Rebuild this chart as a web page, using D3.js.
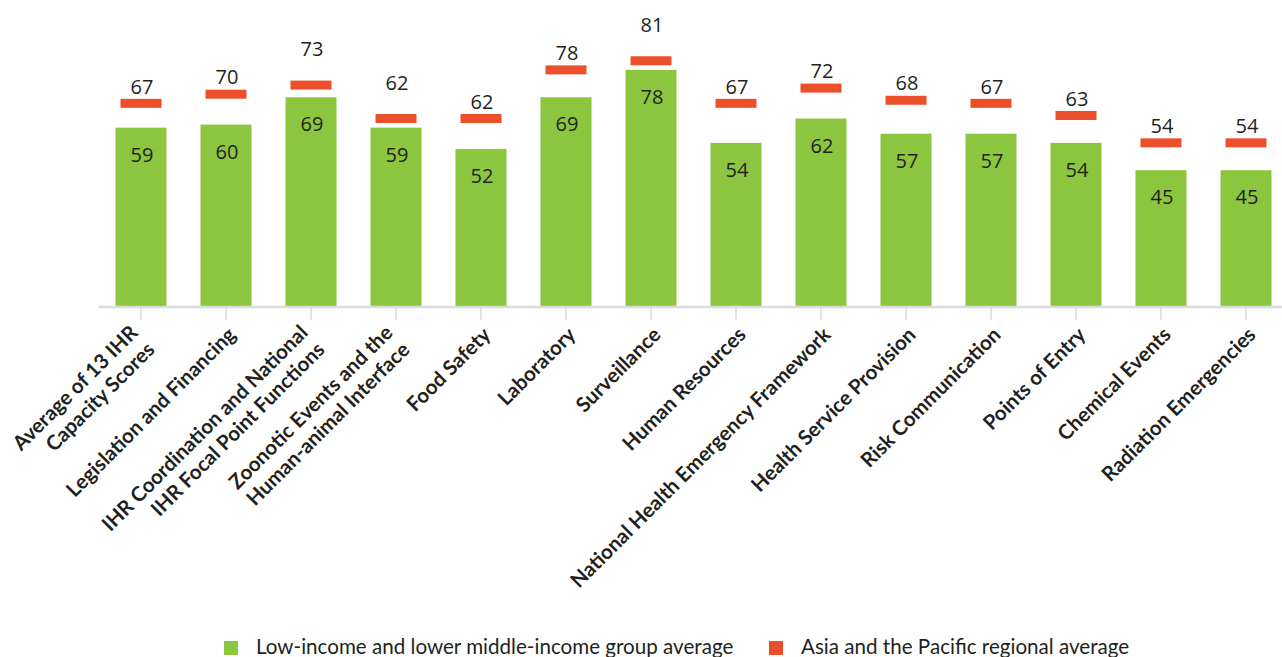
<!DOCTYPE html>
<html>
<head>
<meta charset="utf-8">
<script src="https://cdn.jsdelivr.net/npm/d3@7"></script>
<style>
  html, body { margin: 0; padding: 0; background: #ffffff; }
  svg { display: block; }
</style>
</head>
<body>
<svg id="chart" width="1282" height="657"></svg>
<script>
// IHR capacity categories (line breaks mark two-line labels)
const categories = [
  "Average of 13 IHR\nCapacity Scores",
  "Legislation and Financing",
  "IHR Coordination and National\nIHR Focal Point Functions",
  "Zoonotic Events and the\nHuman-animal Interface",
  "Food Safety",
  "Laboratory",
  "Surveillance",
  "Human Resources",
  "National Health Emergency Framework",
  "Health Service Provision",
  "Risk Communication",
  "Points of Entry",
  "Chemical Events",
  "Radiation Emergencies"
];

// Low-income and lower middle-income group average
const groupAverage = [59, 60, 69, 59, 52, 69, 78, 54, 62, 57, 57, 54, 45, 45];

// Asia and the Pacific regional average
const regionalAverage = [67, 70, 73, 62, 62, 78, 81, 67, 72, 68, 67, 63, 54, 54];

const seriesNames = [
  "Low-income and lower middle-income group average",
  "Asia and the Pacific regional average"
];

// Regional value labels lifted higher to keep them clear of neighbours
const raisedRegionalLabels = [2, 3, 6];

const GREEN = "#8cc63f";
const RED = "#eb502b";
const TEXT = "#231f20";

const svg = d3.select("#chart");
const axisY = 307;

const x = d3.scaleBand()
  .domain(d3.range(categories.length))
  .range([98.5, 1288.5])
  .paddingInner(0.4)
  .paddingOuter(0.2);

const y = d3.scaleLinear()
  .domain([0, 100])
  .range([axisY, 3]);

const cx = i => x(i) + x.bandwidth() / 2;

// Bars
svg.append("g")
  .selectAll("rect")
  .data(groupAverage)
  .join("rect")
  .attr("x", (d, i) => x(i))
  .attr("y", d => y(d))
  .attr("width", x.bandwidth())
  .attr("height", d => y(0) - y(d))
  .attr("fill", GREEN);

// Regional markers
const markerW = 41, markerH = 9;
svg.append("g")
  .selectAll("rect")
  .data(regionalAverage)
  .join("rect")
  .attr("x", (d, i) => cx(i) - markerW / 2)
  .attr("y", d => y(d) - markerH / 2)
  .attr("width", markerW)
  .attr("height", markerH)
  .attr("fill", RED);

const numberFont = "'Open Sans', 'Noto Sans', sans-serif";

// Bar value labels
svg.append("g")
  .selectAll("text")
  .data(groupAverage)
  .join("text")
  .attr("x", (d, i) => cx(i) + 1)
  .attr("y", d => y(d) + 27)
  .attr("dy", "0.36em")
  .attr("text-anchor", "middle")
  .attr("font-family", numberFont)
  .attr("font-size", 20)
  .attr("fill", TEXT)
  .text(d => d);

// Regional value labels
svg.append("g")
  .selectAll("text")
  .data(regionalAverage)
  .join("text")
  .attr("x", (d, i) => cx(i) + 1)
  .attr("y", (d, i) => y(d) - (raisedRegionalLabels.includes(i) ? 36 : 17))
  .attr("dy", "0.36em")
  .attr("text-anchor", "middle")
  .attr("font-family", numberFont)
  .attr("font-size", 20)
  .attr("fill", TEXT)
  .text(d => d);

// Category axis
const xAxis = svg.append("g")
  .attr("transform", `translate(0,${axisY})`)
  .call(d3.axisBottom(x).tickSize(13).tickFormat(""));
xAxis.select(".domain")
  .attr("stroke", "#dcdcdc")
  .attr("stroke-width", 2.5)
  .attr("d", "M98.5,0H1282");
xAxis.selectAll(".tick line")
  .attr("stroke", "#d9d9d9")
  .attr("stroke-width", 1.5);

// Rotated category labels
const labels = svg.append("g")
  .selectAll("text")
  .data(categories)
  .join("text")
  .attr("transform", (d, i) => {
    const twoLine = d.includes("\n");
    const ax = cx(i) + (twoLine ? -2 : 11);
    const ay = twoLine ? 334 : 336;
    return `translate(${ax},${ay}) rotate(-45)`;
  })
  .attr("text-anchor", "end")
  .attr("font-family", "Lato, 'Open Sans', sans-serif")
  .attr("font-weight", 700)
  .attr("font-size", 20.5)
  .attr("fill", TEXT);

labels.each(function (d) {
  const lines = d.split("\n");
  d3.select(this).selectAll("tspan")
    .data(lines)
    .join("tspan")
    .attr("x", 0)
    .attr("dy", (l, j) => j === 0 ? 0 : 24)
    .text(l => l);
});

// Legend
const legendColors = [GREEN, RED];
const legendX = [224, 769];
const legend = svg.append("g")
  .selectAll("g")
  .data(seriesNames)
  .join("g")
  .attr("transform", (d, i) => `translate(${legendX[i]},641)`);
legend.append("rect")
  .attr("width", 14)
  .attr("height", 14)
  .attr("fill", (d, i) => legendColors[i]);
legend.append("text")
  .attr("x", 32)
  .attr("y", 13)
  .attr("font-family", "Lato, 'Open Sans', sans-serif")
  .attr("font-size", 20.6)
  .attr("fill", TEXT)
  .text(d => d);
</script>
</body>
</html>
